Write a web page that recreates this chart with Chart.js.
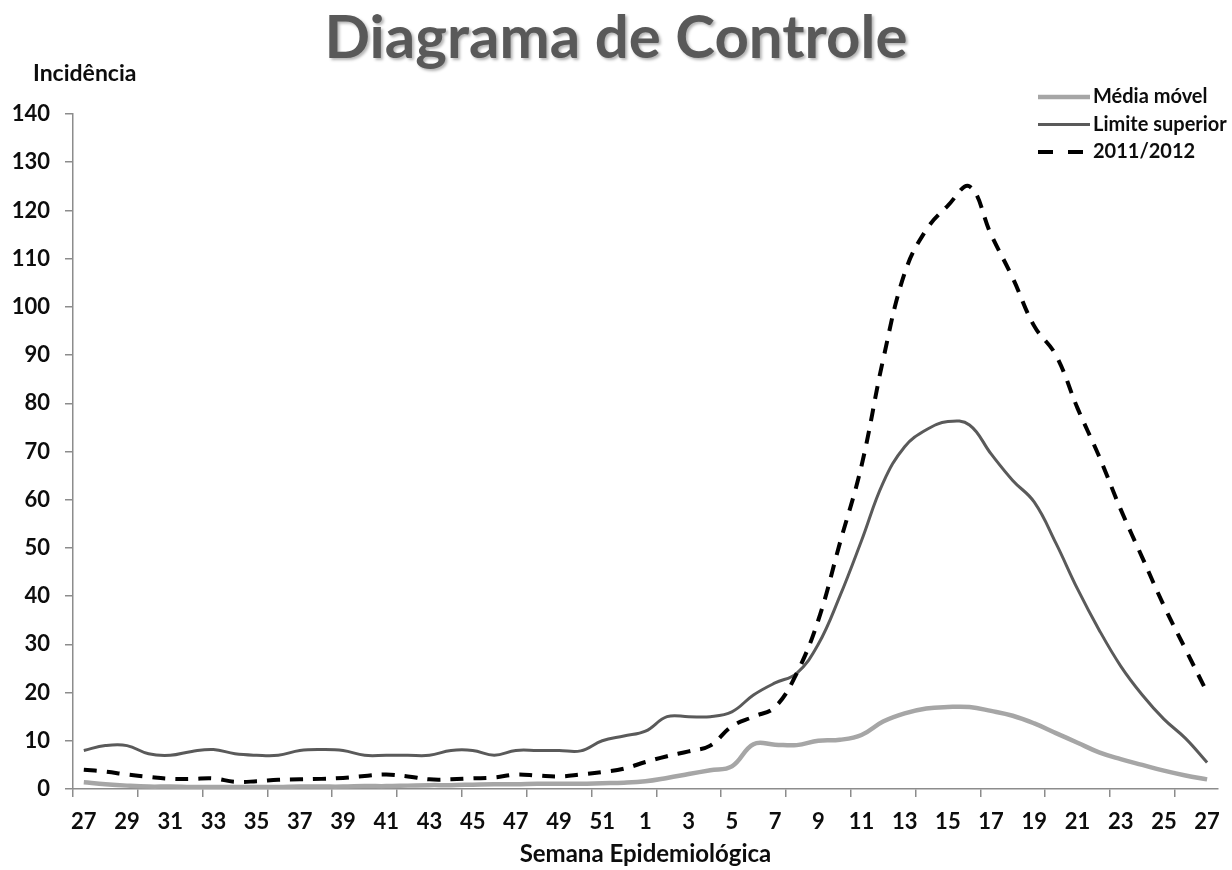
<!DOCTYPE html>
<html lang="pt-BR">
<head>
<meta charset="utf-8">
<title>Diagrama de Controle</title>
<script src="https://cdn.jsdelivr.net/npm/chart.js@4.4.0/dist/chart.umd.min.js"></script>
<style>
  html, body { margin: 0; padding: 0; background: #fff; }
  #wrap { width: 1232px; height: 870px; }
</style>
</head>
<body>
<div id="wrap"><canvas id="myChart" width="1232" height="870"></canvas></div>
<script>
// semanas epidemiológicas 27 (2011) até 27 (2012)
const semanas = [27, 28, 29, 30, 31, 32, 33, 34, 35, 36, 37, 38, 39, 40, 41, 42, 43, 44, 45, 46, 47, 48, 49, 50, 51, 52,
  1, 2, 3, 4, 5, 6, 7, 8, 9, 10, 11, 12, 13, 14, 15, 16, 17, 18, 19, 20, 21, 22, 23, 24, 25, 26, 27];

const mediaMovel = [1.4, 1.0, 0.7, 0.5, 0.5, 0.4, 0.4, 0.4, 0.4, 0.4, 0.5, 0.5, 0.5, 0.6, 0.6, 0.7, 0.8, 0.8, 0.9, 1.0,
  1.0, 1.1, 1.1, 1.1, 1.2, 1.3, 1.6, 2.3, 3.1, 3.9, 4.7, 9.3, 9.2, 9.1, 10.0, 10.2, 11.2, 14.0, 15.7, 16.7,
  17.0, 17.0, 16.2, 15.2, 13.6, 11.6, 9.6, 7.6, 6.2, 5.0, 3.8, 2.8, 2.0];

const limiteSuperior = [8, 9, 9, 7.3, 7, 7.8, 8.2, 7.3, 7, 7, 8, 8.2, 8, 7, 7, 7, 7, 8, 8, 7,
  8, 8, 8, 7.9, 10, 11, 12, 15, 15, 15, 16, 19.5, 22, 24, 30, 40, 51.5, 63.5, 71, 74.5,
  76.2, 75.5, 69.5, 64, 59.5, 51, 41.5, 33, 25.5, 19.5, 14.5, 10.5, 5.5];

const temporada = [4, 3.6, 3.0, 2.5, 2.1, 2.1, 2.2, 1.5, 1.6, 1.9, 2.0, 2.1, 2.3, 2.7, 3.0, 2.6, 2.0, 2.0, 2.2, 2.4,
  3.0, 2.8, 2.6, 3.0, 3.5, 4.2, 5.6, 6.8, 7.8, 9.0, 13, 15, 17, 24, 35, 51, 67, 89, 107, 116,
  121, 125, 115, 106, 96, 90, 79, 69, 58, 48, 38, 29, 20];

const titulo = 'Diagrama de Controle';
const tituloY = 'Incidência';
const tituloX = 'Semana Epidemiológica';

const corEixo = '#8c8c8c';
const corTexto = '#0d0d0d';

Chart.defaults.font.family = 'Lato';

// titulo, rotulo do eixo y e legenda desenhados por cima
const textos = {
  id: 'textos',
  afterDraw(chart) {
    const ctx = chart.ctx;

    ctx.save();
    ctx.font = 'bold 60px Lato';
    ctx.textAlign = 'center';
    ctx.textBaseline = 'alphabetic';
    ctx.shadowColor = 'rgba(0, 0, 0, 0.3)';
    ctx.shadowBlur = 3;
    ctx.shadowOffsetX = 2;
    ctx.shadowOffsetY = 2;
    ctx.fillStyle = '#595959';
    ctx.fillText(titulo, 616, 58);
    ctx.restore();

    ctx.save();
    ctx.font = 'bold 23px Lato';
    ctx.fillStyle = corTexto;
    ctx.textAlign = 'left';
    ctx.textBaseline = 'middle';
    ctx.fillText(tituloY, 33, 74);

    ctx.font = 'bold 20px Lato';
    chart.data.datasets.forEach((ds, i) => {
      const y = 97 + i * 27.5;
      ctx.beginPath();
      ctx.lineWidth = ds.borderWidth;
      ctx.strokeStyle = ds.borderColor;
      ctx.setLineDash(ds.borderDash ? [15, 15] : []);
      ctx.moveTo(1038, y);
      ctx.lineTo(1090, y);
      ctx.stroke();
      ctx.setLineDash([]);
      ctx.fillStyle = corTexto;
      ctx.fillText(ds.label, 1093, y);
    });
    ctx.restore();
  }
};

new Chart('myChart', {
  type: 'line',
  data: {
    labels: semanas,
    datasets: [
      { label: 'Média móvel', data: mediaMovel, borderColor: '#a6a6a6', borderWidth: 4.5, order: 3 },
      { label: 'Limite superior', data: limiteSuperior, borderColor: '#5a5a5a', borderWidth: 3, order: 2 },
      { label: '2011/2012', data: temporada, borderColor: '#000000', borderWidth: 4, borderDash: [13, 10], order: 1 }
    ]
  },
  options: {
    responsive: false,
    animation: false,
    devicePixelRatio: 1,
    layout: { padding: { top: 114, right: 14, bottom: 0, left: 0 } },
    elements: {
      point: { radius: 0 },
      line: { tension: 0.4, fill: false }
    },
    plugins: {
      legend: { display: false },
      title: { display: false },
      tooltip: { enabled: false }
    },
    scales: {
      x: {
        offset: true,
        afterFit(scale) { scale.height = 81; },
        grid: {
          offset: true,
          drawOnChartArea: false,
          tickLength: 8,
          lineWidth: 1.5,
          color: c => c.index % 3 === 0 ? corEixo : 'rgba(0,0,0,0)'
        },
        border: { color: corEixo, width: 1.5 },
        ticks: {
          autoSkip: false,
          maxRotation: 0,
          minRotation: 0,
          padding: 12,
          color: corTexto,
          font: { size: 22, weight: 'bold' },
          callback: function(value, index) {
            return index % 2 === 0 ? this.getLabelForValue(value) : '';
          }
        },
        title: {
          display: true,
          text: tituloX,
          color: corTexto,
          font: { size: 24, weight: 'bold' },
          padding: { top: 0, bottom: 1 }
        }
      },
      y: {
        min: 0,
        max: 140,
        afterFit(scale) { scale.width = 73; },
        grid: { drawOnChartArea: false, tickLength: 8, lineWidth: 1.5, color: corEixo },
        border: { color: corEixo, width: 1.5 },
        ticks: {
          stepSize: 10,
          padding: 15,
          color: corTexto,
          font: { size: 22, weight: 'bold' }
        }
      }
    }
  },
  plugins: [textos]
});
</script>
</body>
</html>
